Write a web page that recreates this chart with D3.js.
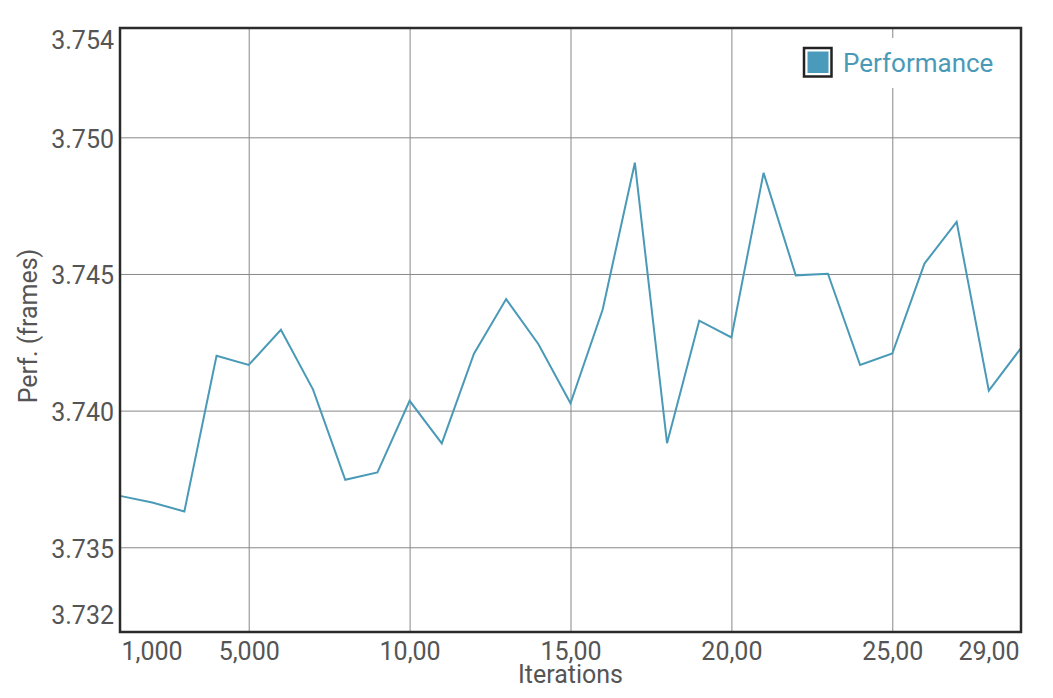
<!DOCTYPE html>
<html>
<head>
<meta charset="utf-8">
<script src="https://cdn.jsdelivr.net/npm/d3@7"></script>
<style>
  html, body { margin: 0; padding: 0; background: #fff; }
  svg { display: block; font-family: Roboto, "Noto Sans", sans-serif; }
</style>
</head>
<body>
<svg id="chart" width="1053" height="698"></svg>
<script>
// ---- data ----
const iterations = [1,2,3,4,5,6,7,8,9,10,11,12,13,14,15,16,17,18,19,20,21,22,23,24,25,26,27,28,29];
const performance = [3.73688,3.73664,3.73631,3.74201,3.74167,3.74296,3.74077,3.73747,3.73774,3.74036,
                     3.73880,3.74208,3.74408,3.74244,3.74027,3.74370,3.74907,3.73881,3.74329,3.74268,
                     3.74870,3.74495,3.74501,3.74167,3.74209,3.74538,3.74691,3.74073,3.74229];
const xTickValues = [1,5,10,15,20,25,29];
const xTickLabels = ["1,000","5,000","10,00","15,00","20,00","25,00","29,00"];
const yTickValues = [3.732,3.735,3.740,3.745,3.750,3.754];
const yTickLabels = ["3.732","3.735","3.740","3.745","3.750","3.754"];
const seriesName = "Performance";

// ---- layout ----
const L = 120, R = 1021, T = 28, B = 632;
const svg = d3.select("#chart");
const x = d3.scaleLinear().domain([1, 29]).range([L, R]);
const y = d3.scaleLinear().domain([3.7319, 3.754]).range([B, T]);
const lineColor = "#4a9ab7";
const textColor = "#555";

// gridlines via axes
const gx = svg.append("g").attr("transform", `translate(0,${B})`)
  .call(d3.axisBottom(x).tickValues(xTickValues).tickSize(-(B - T)).tickFormat((d, i) => xTickLabels[i]));
gx.select(".domain").remove();
gx.selectAll(".tick line").attr("stroke", "#888").attr("stroke-width", 1)
  .attr("display", (d, i) => (i === 0 || i === xTickValues.length - 1) ? "none" : null);
gx.selectAll(".tick text")
  .attr("fill", textColor).attr("font-size", 25).attr("font-family", "Roboto")
  .attr("y", 27.5).attr("dy", 0)
  .attr("text-anchor", (d, i) => i === 0 ? "start" : (i === xTickValues.length - 1 ? "end" : "middle"))
  .attr("dx", (d, i) => i === 0 ? 1 : (i === xTickValues.length - 1 ? -2 : 0));

const gy = svg.append("g").attr("transform", `translate(${L},0)`)
  .call(d3.axisLeft(y).tickValues(yTickValues).tickSize(-(R - L)).tickFormat((d, i) => yTickLabels[i]));
gy.select(".domain").remove();
gy.selectAll(".tick line").attr("stroke", "#888").attr("stroke-width", 1)
  .attr("display", (d, i) => (i === 0 || i === yTickValues.length - 1) ? "none" : null);
gy.selectAll(".tick text")
  .attr("fill", textColor).attr("font-size", 25).attr("font-family", "Roboto")
  .attr("x", -6).attr("dy", 0)
  .attr("y", (d) => {
    const py = y(d);
    if (py - T < 12) return (T + 20) - py;
    if (B - py < 12) return (B - 9) - py;
    return 10;
  });

// line
const line = d3.line().x((d, i) => x(iterations[i])).y(d => y(d));
svg.append("path").datum(performance)
  .attr("d", line).attr("fill", "none")
  .attr("stroke", lineColor).attr("stroke-width", 2).attr("stroke-linejoin", "miter");

// frame
svg.append("rect").attr("x", L).attr("y", T).attr("width", R - L).attr("height", B - T)
  .attr("fill", "none").attr("stroke", "#2b2b2b").attr("stroke-width", 2.5);

// legend
const lg = svg.append("g");
lg.append("rect").attr("x", 792).attr("y", 38).attr("width", 212).attr("height", 50).attr("fill", "#fff");
lg.append("rect").attr("x", 804).attr("y", 48).attr("width", 27.5).attr("height", 28.5)
  .attr("fill", "#fff").attr("stroke", "#222").attr("stroke-width", 2.5);
lg.append("rect").attr("x", 807.5).attr("y", 51.5).attr("width", 21).attr("height", 21.5).attr("fill", "#4a9bbb");
lg.append("text").attr("x", 843).attr("y", 72).attr("font-size", 26).attr("fill", lineColor)
  .text(seriesName);

// axis titles
svg.append("text").attr("x", (L + R) / 2).attr("y", 683).attr("text-anchor", "middle")
  .attr("font-size", 25).attr("fill", textColor).text("Iterations");
svg.append("text").attr("transform", `translate(37,326) rotate(-90)`).attr("text-anchor", "middle")
  .attr("font-size", 25).attr("fill", textColor).text("Perf. (frames)");
</script>
</body>
</html>
